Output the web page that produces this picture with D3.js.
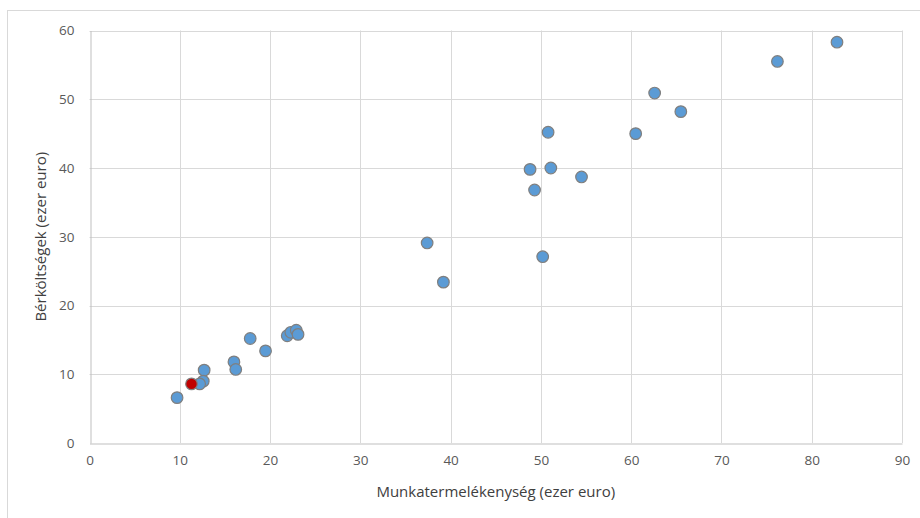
<!DOCTYPE html>
<html><head><meta charset="utf-8">
<script src="https://cdn.jsdelivr.net/npm/d3@7"></script>
<style>body{margin:0;background:#fff}svg{display:block}text{font-family:"Open Sans",Lato,sans-serif}</style>
</head><body>
<script>
const xValues = [82.8, 76.2, 62.6, 65.5, 60.5, 50.8, 48.8, 51.1, 54.5, 49.3, 50.2, 37.4, 39.2, 17.8, 21.9, 22.3, 22.9, 23.1, 19.5, 16.0, 16.2, 12.7, 12.6, 12.2, 9.7];
const yValues = [58.3, 55.5, 50.9, 48.2, 45.0, 45.2, 39.8, 40.0, 38.7, 36.8, 27.1, 29.1, 23.4, 15.2, 15.6, 16.1, 16.4, 15.8, 13.4, 11.8, 10.7, 10.6, 9.0, 8.6, 6.6];
const highlightX = [11.3];
const highlightY = [8.6];
const xTicks = [0, 10, 20, 30, 40, 50, 60, 70, 80, 90];
const yTicks = [0, 10, 20, 30, 40, 50, 60];
const xTitle = "Munkatermelékenység (ezer euro)";
const yTitle = "Bérköltségek (ezer euro)";

const W = 920, H = 518;
const svg = d3.select("body").append("svg").attr("width", W).attr("height", H);
svg.append("rect").attr("x", 7.5).attr("y", 10.5).attr("width", 930).attr("height", 530)
  .attr("fill", "#fff").attr("stroke", "#d9d9d9");

const x = d3.scaleLinear().domain([0, 90]).range([89.5, 902]);
const y = d3.scaleLinear().domain([0, 60]).range([443, 30.5]);

const g = svg.append("g");
g.selectAll(".vg").data(xTicks.slice(1)).join("line")
  .attr("x1", d => Math.round(x(d)) + 0.5).attr("x2", d => Math.round(x(d)) + 0.5)
  .attr("y1", y(60)).attr("y2", y(0)).attr("stroke", "#d9d9d9");
g.selectAll(".hg").data(yTicks.slice(1)).join("line")
  .attr("y1", d => Math.round(y(d)) + 0.5).attr("y2", d => Math.round(y(d)) + 0.5)
  .attr("x1", x(0)).attr("x2", x(90)).attr("stroke", "#d9d9d9");

const xAxis = svg.append("g").attr("transform", `translate(0,${Math.round(y(0)) + 0.5})`)
  .call(d3.axisBottom(x).tickValues(xTicks).tickSize(0).tickPadding(12).tickFormat(d3.format("d")));
xAxis.select(".domain").attr("stroke", "#bfbfbf");
xAxis.selectAll("text").attr("fill", "#595959").style("font-size", "13.5px");

const yAxis = svg.append("g").attr("transform", `translate(${Math.round(x(0)) + 0.5},0)`)
  .call(d3.axisLeft(y).tickValues(yTicks).tickSize(0).tickPadding(16).tickFormat(d3.format("d")));
yAxis.select(".domain").attr("stroke", "#bfbfbf");
yAxis.selectAll("text").attr("fill", "#595959").style("font-size", "13.5px");

svg.append("text").attr("x", (x(0) + x(90)) / 2).attr("y", 497).attr("text-anchor", "middle")
  .attr("fill", "#404040").style("font-size", "15px").text(xTitle);
svg.append("text").attr("transform", `translate(46,${(y(0) + y(60)) / 2}) rotate(-90)`)
  .attr("text-anchor", "middle").attr("fill", "#404040").style("font-size", "15px").text(yTitle);

const pts = xValues.map((v, i) => ({x: v, y: yValues[i]}));
svg.append("g").selectAll("circle").data(pts).join("circle")
  .attr("cx", d => x(d.x)).attr("cy", d => y(d.y)).attr("r", 5.8)
  .attr("fill", "#5b9bd5").attr("stroke", "#7f7f7f").attr("stroke-width", 1.2);
const hp = highlightX.map((v, i) => ({x: v, y: highlightY[i]}));
svg.append("g").selectAll("circle").data(hp).join("circle")
  .attr("cx", d => x(d.x)).attr("cy", d => y(d.y)).attr("r", 5.8)
  .attr("fill", "#c00000").attr("stroke", "#7f7f7f").attr("stroke-width", 1.2);
</script>
</body></html>
